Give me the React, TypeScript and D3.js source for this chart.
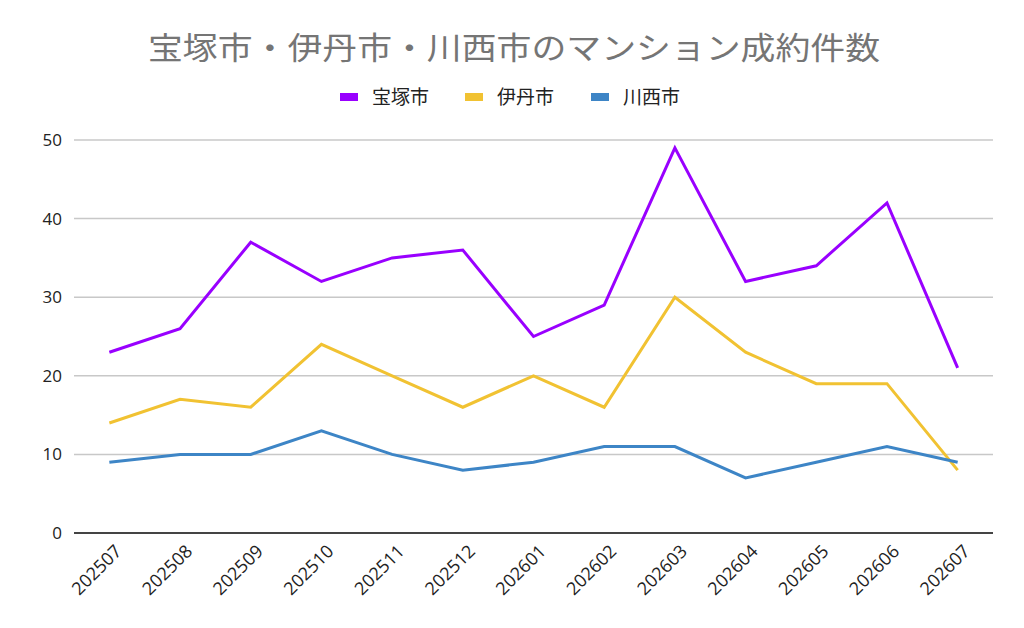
import React, { useEffect, useRef } from 'react';
import * as d3 from 'd3';

const months = ['202507', '202508', '202509', '202510', '202511', '202512', '202601', '202602', '202603', '202604', '202605', '202606', '202607'];
const takarazuka = [23, 26, 37, 32, 35, 36, 25, 29, 49, 32, 34, 42, 21];
const itami = [14, 17, 16, 24, 20, 16, 20, 16, 30, 23, 19, 19, 8];
const kawanishi = [9, 10, 10, 13, 10, 8, 9, 11, 11, 7, 9, 11, 9];
const seriesNames = ['宝塚市', '伊丹市', '川西市'];
const seriesColors = ['#9900ff', '#f1c232', '#3d85c6'];
const yTicks = [0, 10, 20, 30, 40, 50];

const App: React.FC = () => {
  const svgRef = useRef<SVGSVGElement>(null);

  useEffect(() => {
    if (!svgRef.current) return;
    document.body.style.margin = '0';
    const svg = d3.select(svgRef.current);
    svg.selectAll('*').remove();

    const width = 1024;
    const height = 628;
    const margin = { top: 140, right: 31, bottom: 95, left: 74 };
    const cjk = '"Noto Sans CJK JP", "Noto Sans", sans-serif';
    const num = '"Open Sans", "Noto Sans", sans-serif';

    svg.attr('width', width).attr('height', height);

    const x = d3.scalePoint<string>()
      .domain(months)
      .range([margin.left, width - margin.right])
      .padding(0.5);

    const y = d3.scaleLinear()
      .domain([0, 50])
      .range([height - margin.bottom, margin.top]);

    // gridlines
    svg.append('g')
      .selectAll('line')
      .data(yTicks.filter(d => d > 0))
      .enter()
      .append('line')
      .attr('x1', margin.left)
      .attr('x2', width - margin.right)
      .attr('y1', d => y(d))
      .attr('y2', d => y(d))
      .attr('stroke', '#c8c8c8')
      .attr('stroke-width', 1.5);

    // y labels
    svg.append('g')
      .selectAll('text')
      .data(yTicks)
      .enter()
      .append('text')
      .attr('x', margin.left - 12)
      .attr('y', d => y(d))
      .attr('dy', '0.35em')
      .attr('text-anchor', 'end')
      .style('font-family', num)
      .style('font-size', '17px')
      .attr('fill', '#222')
      .text(d => d);

    // baseline
    svg.append('line')
      .attr('x1', margin.left)
      .attr('x2', width - margin.right)
      .attr('y1', y(0))
      .attr('y2', y(0))
      .attr('stroke', '#444')
      .attr('stroke-width', 2);

    // x labels
    svg.append('g')
      .selectAll('text')
      .data(months)
      .enter()
      .append('text')
      .attr('transform', d => `translate(${(x(d) ?? 0) + 9},${y(0) + 15}) rotate(-45)`)
      .attr('text-anchor', 'end')
      .attr('dy', '0.35em')
      .style('font-family', num)
      .style('font-size', '18px')
      .attr('fill', '#222')
      .text(d => d);

    const line = d3.line<number>()
      .x((_, i) => x(months[i]) ?? 0)
      .y(d => y(d));

    [takarazuka, itami, kawanishi].forEach((values, i) => {
      svg.append('path')
        .datum(values)
        .attr('fill', 'none')
        .attr('stroke', seriesColors[i])
        .attr('stroke-width', 3)
        .attr('stroke-linejoin', 'miter')
        .attr('d', line);
    });

    // title
    svg.append('text')
      .attr('x', 514)
      .attr('y', 59)
      .attr('text-anchor', 'middle')
      .attr('fill', '#757575')
      .style('font-family', cjk)
      .style('font-size', '31px')
      .attr('textLength', 732)
      .attr('lengthAdjust', 'spacingAndGlyphs')
      .text('宝塚市・伊丹市・川西市のマンション成約件数');

    // legend
    const legendX = [340, 465, 591];
    const legend = svg.append('g');
    seriesNames.forEach((name, i) => {
      legend.append('rect')
        .attr('x', legendX[i])
        .attr('y', 93)
        .attr('width', 18)
        .attr('height', 8)
        .attr('fill', seriesColors[i]);
      legend.append('text')
        .attr('x', legendX[i] + 32)
        .attr('y', 97)
        .attr('dy', '0.35em')
        .style('font-family', cjk)
        .style('font-size', '19px')
        .attr('fill', '#222')
        .text(name);
    });
  }, []);

  return <svg ref={svgRef} style={{ display: 'block' }}></svg>;
};

export default App;
